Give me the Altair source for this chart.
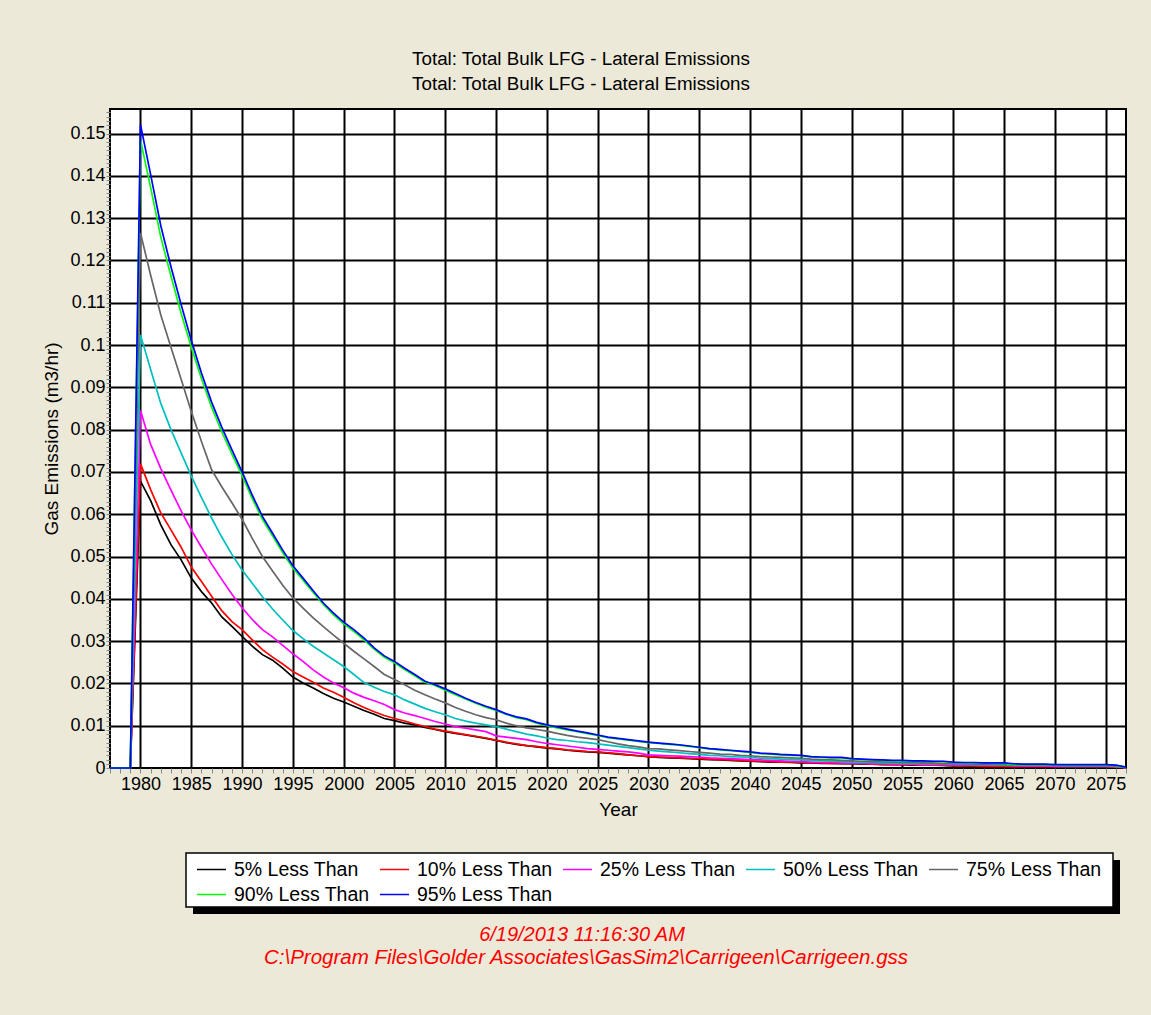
import altair as alt
import pandas as pd

FONT = "Liberation Sans"

years = list(range(1977, 2078))

series_names = ["5% Less Than", "10% Less Than", "25% Less Than", "50% Less Than",
                "75% Less Than", "90% Less Than", "95% Less Than"]
series_colors = ["#000000", "#FF0000", "#FF00FF", "#00BFBF", "#666666", "#00FF00", "#0000FF"]

title_lines = ["Total: Total Bulk LFG - Lateral Emissions",
               "Total: Total Bulk LFG - Lateral Emissions"]
footer_lines = ["6/19/2013 11:16:30 AM",
                "C:\\Program Files\\Golder Associates\\GasSim2\\Carrigeen\\Carrigeen.gss"]
x_title = "Year"
y_title = "Gas Emissions (m3/hr)"

s05 = [0, 0, 0,
       0.0678, 0.0632, 0.0575, 0.0528, 0.0492, 0.0449, 0.0417, 0.0390, 0.0357, 0.0335,
       0.0311, 0.0288, 0.0268, 0.0255, 0.0236, 0.0215, 0.0201, 0.0189, 0.0176, 0.0165,
       0.0156, 0.0146, 0.0136, 0.0127, 0.0117, 0.0112, 0.0106, 0.0102, 0.0096, 0.0091,
       0.0086, 0.0082, 0.0078, 0.0074, 0.0070, 0.0065, 0.0060, 0.0056, 0.0053, 0.0050,
       0.0047, 0.0045, 0.0042, 0.0040, 0.0038, 0.0037, 0.0035, 0.0033, 0.0031, 0.0029,
       0.0027, 0.0025, 0.0024, 0.0023, 0.0022, 0.0021, 0.0020, 0.0019, 0.0018, 0.0017,
       0.0016, 0.0015, 0.0014, 0.0014, 0.0013, 0.0012, 0.0012, 0.0011, 0.0011, 0.0010,
       0.0010, 0.0009, 0.0009, 0.0008, 0.0008, 0.0008, 0.0007, 0.0007, 0.0007, 0.0006,
       0.0005, 0.0005, 0.0004, 0.0004, 0.0004, 0.0003, 0.0003, 0.0003, 0.0003, 0.0003,
       0.0002, 0.0002, 0.0002, 0.0002, 0.0002, 0.0002, 0.0002, 0.0001]

s10 = [0, 0, 0,
       0.0719, 0.0658, 0.0603, 0.0563, 0.0522, 0.0475, 0.0441, 0.0406, 0.0372, 0.0346,
       0.0327, 0.0303, 0.0280, 0.0262, 0.0246, 0.0228, 0.0215, 0.0203, 0.0189, 0.0179,
       0.0167, 0.0154, 0.0143, 0.0133, 0.0124, 0.0117, 0.0111, 0.0104, 0.0098, 0.0092,
       0.0087, 0.0083, 0.0079, 0.0075, 0.0071, 0.0066, 0.0061, 0.0057, 0.0053, 0.0051,
       0.0048, 0.0046, 0.0043, 0.0041, 0.0039, 0.0038, 0.0036, 0.0034, 0.0031, 0.0029,
       0.0027, 0.0026, 0.0025, 0.0024, 0.0023, 0.0022, 0.0021, 0.0020, 0.0019, 0.0018,
       0.0017, 0.0016, 0.0015, 0.0014, 0.0014, 0.0013, 0.0012, 0.0012, 0.0011, 0.0011,
       0.0010, 0.0010, 0.0009, 0.0009, 0.0008, 0.0008, 0.0008, 0.0007, 0.0007, 0.0007,
       0.0005, 0.0005, 0.0005, 0.0004, 0.0004, 0.0004, 0.0003, 0.0003, 0.0003, 0.0003,
       0.0003, 0.0003, 0.0003, 0.0003, 0.0003, 0.0003, 0.0002, 0.0001]

s25 = [0, 0, 0,
       0.0845, 0.0765, 0.0708, 0.0657, 0.0608, 0.0563, 0.0522, 0.0482, 0.0446, 0.0411,
       0.0379, 0.0351, 0.0327, 0.0310, 0.0290, 0.0270, 0.0252, 0.0232, 0.0215, 0.0201,
       0.0190, 0.0177, 0.0167, 0.0159, 0.0150, 0.0138, 0.0130, 0.0124, 0.0117, 0.0110,
       0.0104, 0.0098, 0.0094, 0.0090, 0.0086, 0.0076, 0.0073, 0.0070, 0.0067, 0.0062,
       0.0058, 0.0055, 0.0052, 0.0049, 0.0046, 0.0044, 0.0042, 0.0040, 0.0038, 0.0035,
       0.0031, 0.0030, 0.0029, 0.0028, 0.0027, 0.0026, 0.0024, 0.0023, 0.0022, 0.0021,
       0.0020, 0.0019, 0.0018, 0.0017, 0.0016, 0.0015, 0.0014, 0.0013, 0.0013, 0.0012,
       0.0011, 0.0011, 0.0010, 0.0010, 0.0009, 0.0009, 0.0009, 0.0008, 0.0008, 0.0008,
       0.0007, 0.0007, 0.0007, 0.0007, 0.0006, 0.0006, 0.0005, 0.0005, 0.0005, 0.0005,
       0.0004, 0.0004, 0.0004, 0.0004, 0.0004, 0.0004, 0.0003, 0.0001]

s50 = [0, 0, 0,
       0.1024, 0.0942, 0.0862, 0.0800, 0.0745, 0.0690, 0.0640, 0.0591, 0.0546, 0.0505,
       0.0468, 0.0437, 0.0405, 0.0376, 0.0350, 0.0325, 0.0306, 0.0288, 0.0272, 0.0256,
       0.0240, 0.0221, 0.0202, 0.0191, 0.0181, 0.0173, 0.0161, 0.0151, 0.0141, 0.0133,
       0.0126, 0.0117, 0.0111, 0.0106, 0.0102, 0.0098, 0.0092, 0.0086, 0.0080, 0.0076,
       0.0071, 0.0067, 0.0065, 0.0062, 0.0060, 0.0057, 0.0054, 0.0051, 0.0048, 0.0045,
       0.0042, 0.0040, 0.0038, 0.0036, 0.0034, 0.0032, 0.0030, 0.0029, 0.0027, 0.0026,
       0.0025, 0.0023, 0.0022, 0.0021, 0.0020, 0.0019, 0.0018, 0.0017, 0.0016, 0.0015,
       0.0014, 0.0013, 0.0013, 0.0012, 0.0012, 0.0011, 0.0011, 0.0010, 0.0010, 0.0010,
       0.0009, 0.0009, 0.0008, 0.0008, 0.0008, 0.0007, 0.0007, 0.0006, 0.0006, 0.0006,
       0.0006, 0.0005, 0.0005, 0.0005, 0.0005, 0.0005, 0.0004, 0.0001]

s75 = [0, 0, 0,
       0.1265, 0.1165, 0.1071, 0.0995, 0.0919, 0.0843, 0.0772, 0.0705, 0.0665, 0.0627,
       0.0588, 0.0543, 0.0500, 0.0466, 0.0432, 0.0402, 0.0378, 0.0355, 0.0334, 0.0314,
       0.0295, 0.0276, 0.0258, 0.0240, 0.0221, 0.0209, 0.0197, 0.0184, 0.0173, 0.0163,
       0.0154, 0.0143, 0.0134, 0.0126, 0.0119, 0.0114, 0.0106, 0.0100, 0.0095, 0.0091,
       0.0087, 0.0082, 0.0077, 0.0073, 0.0070, 0.0067, 0.0062, 0.0057, 0.0053, 0.0050,
       0.0046, 0.0045, 0.0043, 0.0041, 0.0039, 0.0037, 0.0035, 0.0033, 0.0032, 0.0030,
       0.0029, 0.0027, 0.0026, 0.0025, 0.0024, 0.0023, 0.0021, 0.0020, 0.0019, 0.0018,
       0.0017, 0.0016, 0.0015, 0.0015, 0.0014, 0.0013, 0.0013, 0.0012, 0.0012, 0.0011,
       0.0010, 0.0010, 0.0009, 0.0009, 0.0009, 0.0008, 0.0008, 0.0007, 0.0007, 0.0007,
       0.0007, 0.0006, 0.0006, 0.0006, 0.0006, 0.0006, 0.0005, 0.0001]

s90 = [0, 0, 0,
       0.1485, 0.1372, 0.1255, 0.1163, 0.1075, 0.0995, 0.0921, 0.0853, 0.0795, 0.0742,
       0.0692, 0.0637, 0.0588, 0.0549, 0.0509, 0.0473, 0.0444, 0.0415, 0.0387, 0.0362,
       0.0341, 0.0323, 0.0303, 0.0281, 0.0262, 0.0249, 0.0233, 0.0218, 0.0203, 0.0195,
       0.0184, 0.0173, 0.0163, 0.0153, 0.0144, 0.0136, 0.0127, 0.0119, 0.0114, 0.0106,
       0.0100, 0.0095, 0.0090, 0.0086, 0.0081, 0.0077, 0.0072, 0.0069, 0.0066, 0.0063,
       0.0060, 0.0058, 0.0056, 0.0054, 0.0051, 0.0048, 0.0045, 0.0043, 0.0041, 0.0039,
       0.0037, 0.0034, 0.0033, 0.0031, 0.0030, 0.0029, 0.0026, 0.0025, 0.0024, 0.0024,
       0.0021, 0.0020, 0.0019, 0.0018, 0.0017, 0.0017, 0.0016, 0.0016, 0.0016, 0.0015,
       0.0013, 0.0012, 0.0012, 0.0012, 0.0011, 0.0011, 0.0008, 0.0008, 0.0008, 0.0008,
       0.0007, 0.0007, 0.0007, 0.0007, 0.0007, 0.0007, 0.0006, 0.0002]

s95 = [0, 0, 0,
       0.1521, 0.1403, 0.1282, 0.1185, 0.1096, 0.1011, 0.0934, 0.0865, 0.0806, 0.0752,
       0.0700, 0.0645, 0.0595, 0.0555, 0.0515, 0.0478, 0.0449, 0.0419, 0.0390, 0.0366,
       0.0345, 0.0327, 0.0307, 0.0284, 0.0265, 0.0252, 0.0236, 0.0221, 0.0205, 0.0197,
       0.0187, 0.0176, 0.0165, 0.0155, 0.0146, 0.0138, 0.0128, 0.0121, 0.0116, 0.0108,
       0.0102, 0.0097, 0.0092, 0.0087, 0.0083, 0.0078, 0.0073, 0.0070, 0.0067, 0.0064,
       0.0061, 0.0059, 0.0057, 0.0055, 0.0052, 0.0049, 0.0046, 0.0044, 0.0042, 0.0040,
       0.0038, 0.0035, 0.0034, 0.0032, 0.0031, 0.0030, 0.0027, 0.0026, 0.0025, 0.0025,
       0.0022, 0.0021, 0.0020, 0.0019, 0.0018, 0.0018, 0.0017, 0.0017, 0.0016, 0.0016,
       0.0014, 0.0013, 0.0013, 0.0012, 0.0012, 0.0012, 0.0010, 0.0009, 0.0009, 0.0009,
       0.0008, 0.0008, 0.0008, 0.0008, 0.0008, 0.0008, 0.0007, 0.0002]

all_series = [s05, s10, s25, s50, s75, s90, s95]
for s in all_series:
    assert len(s) == len(years), len(s)

rows = []
for name, vals in zip(series_names, all_series):
    for yr, v in zip(years, vals):
        rows.append({"Year": yr, "Value": v, "Series": name})
df = pd.DataFrame(rows)

y_ticks = [i / 1000 for i in range(0, 156)]
is_major_y = "abs(datum.value * 100 - round(datum.value * 100)) < 0.0001"
is_major_x = "datum.value % 5 === 0 && datum.value >= 1980 && datum.value <= 2075"

x_axis = alt.Axis(
    values=years, format="d", title=x_title,
    labelExpr=f"{is_major_x} ? datum.label : ''",
    labelOverlap=False, labelFont=FONT, labelFontSize=18, labelColor="black",
    labelPadding=2, tickSize=5, tickColor="#888888", tickWidth=1,
    grid=True, gridColor="black", gridWidth=2,
    gridOpacity={"condition": {"test": is_major_x, "value": 1}, "value": 0},
    domain=False, titleFont=FONT, titleFontSize=19, titleFontWeight="normal",
    titleColor="black", titlePadding=7,
)
y_axis = alt.Axis(
    values=y_ticks, format="~g", title=y_title,
    labelExpr=f"{is_major_y} ? datum.label : ''",
    labelOverlap=False, labelFont=FONT, labelFontSize=18, labelColor="black",
    labelPadding=1, tickSize=4, tickColor="#888888", tickWidth=1,
    grid=True, gridColor="black", gridWidth=2,
    gridOpacity={"condition": {"test": f"{is_major_y} && datum.value > 0", "value": 1}, "value": 0},
    domain=False, titleFont=FONT, titleFontSize=19, titleFontWeight="normal",
    titleColor="black", titlePadding=8,
)

lines = alt.Chart(df).mark_line(strokeWidth=1.7).encode(
    x=alt.X("Year:Q", scale=alt.Scale(domain=[1977, 2077], nice=False, zero=False), axis=x_axis),
    y=alt.Y("Value:Q", scale=alt.Scale(domain=[0, 0.1558], nice=False), axis=y_axis),
    color=alt.Color(
        "Series:N",
        scale=alt.Scale(domain=series_names, range=series_colors),
        legend=alt.Legend(
            title=None, orient="none", legendX=86, legendY=745,
            direction="horizontal", columns=5, symbolType="stroke",
            symbolSize=841, symbolStrokeWidth=1.5, labelFont=FONT,
            labelFontSize=19.5, labelColor="black", columnPadding=7,
            rowPadding=-5, labelOffset=7, padding=0, labelLimit=300,
        ),
    ),
)

one = pd.DataFrame({"k": [0]})
shadow = alt.Chart(one).mark_rect(color="black").encode(
    x=alt.value(83), x2=alt.value(1010), y=alt.value(751), y2=alt.value(805))
box = alt.Chart(one).mark_rect(fill="white", stroke="black", strokeWidth=1.5).encode(
    x=alt.value(76), x2=alt.value(1003), y=alt.value(744), y2=alt.value(798))

foot_df = pd.DataFrame({"t": footer_lines})
foot1 = alt.Chart(foot_df.iloc[[0]]).mark_text(
    font=FONT, fontSize=20, fontStyle="italic", color="#FF0000", align="center", baseline="middle"
).encode(text="t:N", x=alt.value(472), y=alt.value(826))
foot2 = alt.Chart(foot_df.iloc[[1]]).mark_text(
    font=FONT, fontSize=20.5, fontStyle="italic", color="#FF0000", align="center", baseline="middle"
).encode(text="t:N", x=alt.value(476), y=alt.value(849))

chart = alt.layer(shadow, box, lines, foot1, foot2).properties(
    width=1016, height=659,
    autosize=alt.AutoSizeParams(type="none"),
    padding={"left": 110, "top": 109, "right": 25, "bottom": 247},
    title=alt.TitleParams(
        text=title_lines, font=FONT, fontSize=18.8, fontWeight="normal", color="black",
        anchor="middle", lineHeight=25, offset=10, dx=-37,
    ),
).configure(background="#ECE9D8").configure_view(fill="white", stroke="black", strokeWidth=2)

chart.save("out.html", embed_options={"renderer": "svg", "actions": False})
